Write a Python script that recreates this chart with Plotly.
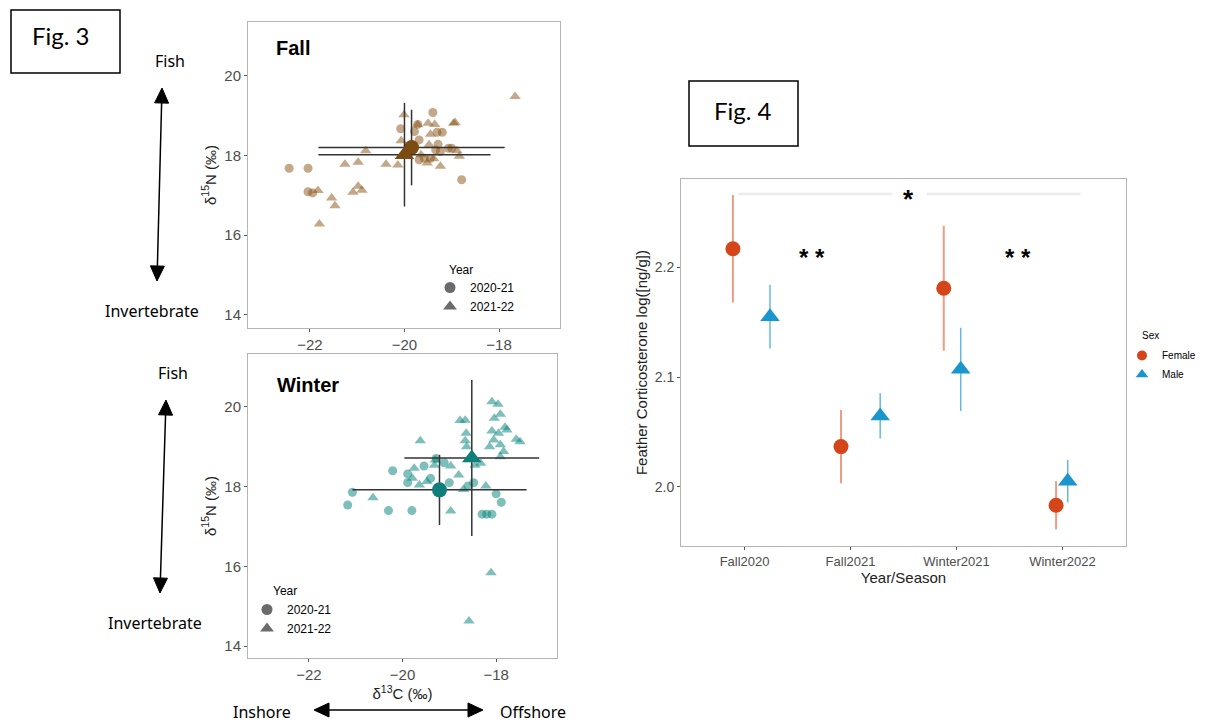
import plotly.graph_objects as go

# ---------------- Fig. 3 data (d13C, d15N) ----------------
fall_2021_x = [-22.44, -22.04, -22.04, -21.94, -20.08, -19.40, -19.20, -19.31, -19.79, -19.69, -19.72,
               -19.29, -19.34, -19.07, -19.00, -19.24, -19.69, -19.58, -18.79, -19.45, -19.90]
fall_2021_y = [17.68, 17.68, 17.09, 17.06, 18.67, 19.08, 18.58, 18.58, 18.60, 18.39, 18.78,
               18.28, 18.14, 18.18, 18.18, 18.10, 17.89, 17.93, 17.39, 17.93, 18.14]
fall_2122_x = [-21.83, -21.80, -21.54, -21.47, -21.26, -20.98, -21.09, -20.98, -20.90, -20.82, -20.39,
               -20.14, -20.01, -20.07, -19.72, -19.50, -19.36, -19.45, -19.48, -19.52, -19.38, -19.24,
               -18.96, -18.93, -18.89, -18.84, -17.66, -19.65]
fall_2122_y = [17.12, 16.28, 16.93, 16.74, 17.78, 17.83, 17.08, 17.23, 17.13, 18.12, 17.78,
               17.76, 19.02, 18.37, 18.77, 18.81, 18.78, 18.53, 18.27, 17.81, 17.92, 17.73,
               18.81, 18.83, 18.12, 17.98, 19.48, 18.02]
fall_mean_x = [-19.85, -20.00]   # 2020-21, 2021-22
fall_mean_y = [18.20, 18.02]
fall_sd_x = [1.97, 1.82]
fall_sd_y = [0.95, 1.30]

winter_2021_x = [-21.17, -21.07, -20.30, -20.21, -19.80, -19.89, -19.89, -19.54, -19.40, -19.28,
                 -19.11, -19.00, -18.60, -18.48, -18.30, -18.20, -18.09, -18.00, -17.89]
winter_2021_y = [17.54, 17.86, 17.40, 18.40, 17.40, 18.32, 18.10, 18.52, 18.21, 18.71,
                 18.60, 18.10, 18.02, 18.10, 17.31, 17.31, 17.31, 17.82, 17.61]
winter_2122_x = [-20.63, -19.79, -19.62, -19.75, -19.64, -19.48, -19.30, -19.32, -18.97, -18.97,
                 -18.80, -18.77, -18.66, -18.64, -18.66, -18.63, -18.70, -18.45, -18.33, -18.22,
                 -18.09, -17.96, -17.91, -18.04, -18.09, -18.05, -18.14, -17.95, -17.91, -17.81,
                 -17.77, -17.84, -17.91, -17.57, -17.49, -18.11, -18.58]
winter_2122_y = [17.72, 18.21, 19.15, 18.46, 18.04, 18.13, 18.67, 18.54, 18.52, 17.39,
                 18.29, 19.66, 19.67, 19.34, 19.15, 19.00, 17.93, 18.54, 18.59, 18.02,
                 20.13, 20.07, 19.82, 19.72, 19.40, 19.17, 19.00, 19.34, 19.05, 19.49,
                 19.42, 18.88, 18.75, 19.19, 19.13, 15.84, 14.63]
winter_mean_x = [-19.21, -18.52]
winter_mean_y = [17.92, 18.72]
winter_sd_x = [1.86, 1.44]
winter_sd_y = [0.88, 1.96]

year_labels = ["2020-21", "2021-22"]
c13_ticks = [-22, -20, -18]
n15_ticks = [14, 16, 18, 20]

# ---------------- Fig. 4 data ----------------
seasons = ["Fall2020", "Fall2021", "Winter2021", "Winter2022"]
sex_labels = ["Female", "Male"]
female_mean = [2.217, 2.0365, 2.181, 1.983]
female_err = [0.049, 0.0335, 0.057, 0.022]
male_mean = [2.155, 2.0645, 2.107, 2.005]
male_err = [0.029, 0.0207, 0.038, 0.0194]
female_dodge = [-0.11, -0.09, -0.12, -0.06]
male_dodge = [0.24, 0.28, 0.04, 0.05]
cort_ticks = [2.0, 2.1, 2.2]
sig_bracket_x = [0.94, 2.39, None, 2.72, 4.17]
sig_bracket_y = [2.267, 2.267, None, 2.267, 2.267]
sig_labels = ["*", "* *", "* *"]
sig_x = [2.549, 1.636, 3.58]
sig_y = [2.268, 2.2146, 2.2146]

W, H = 1209, 724
FONT = "Liberation Sans"
FALL_PT = "rgba(135,82,20,0.5)"
FALL_MEAN = "#7B4B12"
WIN_PT = "rgba(0,128,120,0.5)"
WIN_MEAN = "#0E7F7A"
FEM = "#D5451A"
FEM_ERR = "#EE9C84"
MAL = "#1A96CE"
MAL_ERR = "#64B8E0"

def px(x):
    return x / W

def py(y):
    return 1 - y / H

fig = go.Figure()

def add_panel(xs1, ys1, xs2, ys2, mx, my, sx, sy, pt_col, mean_col, xa, ya, leg):
    fig.add_trace(go.Scatter(x=xs1, y=ys1, mode="markers", xaxis=xa, yaxis=ya, showlegend=False,
                             marker=dict(symbol="circle", size=9, color=pt_col)))
    fig.add_trace(go.Scatter(x=xs2, y=ys2, mode="markers", xaxis=xa, yaxis=ya, showlegend=False,
                             marker=dict(symbol="triangle-up", size=10, color=pt_col)))
    for i, sym, sz in [(0, "circle", 15), (1, "triangle-up", 17)]:
        fig.add_trace(go.Scatter(
            x=[mx[i]], y=[my[i]], mode="markers", xaxis=xa, yaxis=ya, showlegend=False,
            marker=dict(symbol=sym, size=sz, color=mean_col),
            error_x=dict(type="data", array=[sx[i]], color="#333333", thickness=1.5, width=0),
            error_y=dict(type="data", array=[sy[i]], color="#333333", thickness=1.5, width=0)))
    for lab, sym, sz in zip(year_labels, ["circle", "triangle-up"], [11, 12]):
        fig.add_trace(go.Scatter(x=[None], y=[None], mode="markers", xaxis=xa, yaxis=ya,
                                 name=lab, legend=leg, showlegend=True,
                                 marker=dict(symbol=sym, size=sz, color="#6B6B6B")))

add_panel(fall_2021_x, fall_2021_y, fall_2122_x, fall_2122_y, fall_mean_x, fall_mean_y,
          fall_sd_x, fall_sd_y, FALL_PT, FALL_MEAN, "x", "y", "legend")
add_panel(winter_2021_x, winter_2021_y, winter_2122_x, winter_2122_y, winter_mean_x, winter_mean_y,
          winter_sd_x, winter_sd_y, WIN_PT, WIN_MEAN, "x2", "y2", "legend2")

# Fig. 4
fig.add_trace(go.Scatter(x=sig_bracket_x, y=sig_bracket_y, mode="lines", xaxis="x3", yaxis="y3",
                         showlegend=False, line=dict(color="#EBEBEB", width=2.5)))
fig.add_trace(go.Scatter(
    x=[i + 1 + d for i, d in enumerate(female_dodge)], y=female_mean, mode="markers",
    xaxis="x3", yaxis="y3", name=sex_labels[0], showlegend=False,
    marker=dict(symbol="circle", size=15, color=FEM),
    error_y=dict(type="data", array=female_err, color=FEM_ERR, thickness=2, width=0)))
fig.add_trace(go.Scatter(
    x=[i + 1 + d for i, d in enumerate(male_dodge)], y=male_mean, mode="markers",
    xaxis="x3", yaxis="y3", name=sex_labels[1], showlegend=False,
    marker=dict(symbol="triangle-up", size=17, color=MAL),
    error_y=dict(type="data", array=male_err, color=MAL_ERR, thickness=1.5, width=0)))
for lab, sym, sz, col in zip(sex_labels, ["circle", "triangle-up"], [10, 11], [FEM, MAL]):
    fig.add_trace(go.Scatter(x=[None], y=[None], mode="markers", xaxis="x3", yaxis="y3",
                             name=lab, legend="legend3", showlegend=True,
                             marker=dict(symbol=sym, size=sz, color=col)))

axis_common = dict(showline=True, mirror=True, linecolor="#B5B5B5", linewidth=1, showgrid=False,
                   zeroline=False, ticks="outside", ticklen=3, tickcolor="#555555",
                   tickfont=dict(family=FONT, size=15, color="#4D4D4D"))

n15_title = dict(text="δ<sup>15</sup>N (‰)", font=dict(family=FONT, size=15, color="#222222"), standoff=4)

fig.update_layout(
    width=W, height=H, margin=dict(l=0, r=0, t=0, b=0),
    paper_bgcolor="white", plot_bgcolor="white",
    font=dict(family=FONT, color="black"),
    xaxis=dict(axis_common, domain=[px(248), px(560)], range=[-23.31, -16.71], tickvals=c13_ticks,
               anchor="y"),
    yaxis=dict(axis_common, domain=[py(328), py(22)], range=[13.67, 21.35], tickvals=n15_ticks,
               anchor="x", title=n15_title),
    xaxis2=dict(axis_common, domain=[px(248), px(557)], range=[-23.3, -16.7], tickvals=c13_ticks,
                anchor="y2",
                title=dict(text="δ<sup>13</sup>C (‰)", font=dict(family=FONT, size=15, color="#222222"),
                           standoff=4)),
    yaxis2=dict(axis_common, domain=[py(658), py(354)], range=[13.7, 21.33], tickvals=n15_ticks,
                anchor="x2", title=n15_title),
    xaxis3=dict(axis_common, domain=[px(681), px(1126)], range=[0.4, 4.6], tickvals=[1, 2, 3, 4],
                ticktext=seasons, anchor="y3", tickfont=dict(family=FONT, size=13, color="#4D4D4D"),
                title=dict(text="Year/Season", font=dict(family=FONT, size=15, color="#222222"),
                           standoff=3)),
    yaxis3=dict(axis_common, domain=[py(546), py(179)], range=[1.9458, 2.2807], tickvals=cort_ticks,
                tickformat=".1f", anchor="x3", tickfont=dict(family=FONT, size=14, color="#4D4D4D"),
                title=dict(text="Feather Corticosterone log([ng/g])",
                           font=dict(family=FONT, size=15, color="#222222"), standoff=3)),
    legend=dict(x=px(430), y=py(273), xanchor="left", yanchor="top", bgcolor="rgba(0,0,0,0)",
                font=dict(family=FONT, size=12, color="black"), tracegroupgap=0),
    legend2=dict(x=px(247), y=py(595), xanchor="left", yanchor="top", bgcolor="rgba(0,0,0,0)",
                 font=dict(family=FONT, size=12, color="black"), tracegroupgap=0),
    legend3=dict(x=px(1122), y=py(341), xanchor="left", yanchor="top", bgcolor="rgba(0,0,0,0)",
                 font=dict(family=FONT, size=10, color="black"), tracegroupgap=0),
)

ann = []
# legend titles
ann.append(dict(text="Year", x=px(447), y=py(270), xref="paper", yref="paper", xanchor="left",
                yanchor="middle", showarrow=False, font=dict(family=FONT, size=12, color="black")))
ann.append(dict(text="Year", x=px(271), y=py(591), xref="paper", yref="paper", xanchor="left",
                yanchor="middle", showarrow=False, font=dict(family=FONT, size=12, color="black")))
ann.append(dict(text="Sex", x=px(1140), y=py(336), xref="paper", yref="paper", xanchor="left",
                yanchor="middle", showarrow=False, font=dict(family=FONT, size=10, color="black")))
# panel titles
ann.append(dict(text="<b>Fall</b>", x=px(274), y=py(48), xref="paper", yref="paper", xanchor="left",
                yanchor="middle", showarrow=False, font=dict(family=FONT, size=20, color="black")))
ann.append(dict(text="<b>Winter</b>", x=px(275), y=py(385), xref="paper", yref="paper",
                xanchor="left", yanchor="middle", showarrow=False,
                font=dict(family=FONT, size=20, color="black")))
# figure labels
for txt, cx, cy in [("Fig. 3", 61, 36), ("Fig. 4", 743, 110)]:
    ann.append(dict(text=txt, x=px(cx), y=py(cy), xref="paper", yref="paper", showarrow=False,
                    xanchor="center", yanchor="middle", font=dict(family="Lato", size=24, color="black")))
# side labels
for txt, cx, cy in [("Fish", 170, 61), ("Invertebrate", 152, 311), ("Fish", 173, 373),
                    ("Invertebrate", 155, 623), ("Inshore", 262, 712), ("Offshore", 533, 712)]:
    ann.append(dict(text=txt, x=px(cx), y=py(cy), xref="paper", yref="paper", showarrow=False,
                    xanchor="center", yanchor="middle",
                    font=dict(family="Noto Sans", size=16, color="black")))
# significance stars
for lab, sx_, sy_, fs in zip(sig_labels, sig_x, sig_y, [26, 24, 24]):
    ann.append(dict(text=f"<b>{lab}</b>", x=sx_, y=sy_, xref="x3", yref="y3", showarrow=False,
                    xanchor="center", yanchor="middle", yshift=-6,
                    font=dict(family=FONT, size=fs, color="black")))
fig.update_layout(annotations=ann)

shapes = []
for x0, y0, x1, y1 in [(11, 10, 120, 73), (689, 81, 798, 146)]:
    shapes.append(dict(type="rect", xref="paper", yref="paper", x0=px(x0), x1=px(x1), y0=py(y1),
                       y1=py(y0), line=dict(color="black", width=1.5)))

# double-headed arrows (lines with filled triangular heads)
def arrow(x0, y0, x1, y1, head=15, half=7):
    import math
    dx, dy = x1 - x0, y1 - y0
    L = math.hypot(dx, dy)
    ux, uy = dx / L, dy / L
    nx, ny = -uy, ux
    out = [dict(type="line", xref="paper", yref="paper",
                x0=px(x0 + ux * head * 0.8), y0=py(y0 + uy * head * 0.8),
                x1=px(x1 - ux * head * 0.8), y1=py(y1 - uy * head * 0.8),
                line=dict(color="black", width=1.5))]
    for (tx, ty, sgn) in [(x0, y0, 1), (x1, y1, -1)]:
        bx, by = tx + sgn * ux * head, ty + sgn * uy * head
        pts = [(tx, ty), (bx + nx * half, by + ny * half), (bx - nx * half, by - ny * half)]
        path = "M " + " L ".join(f"{px(a):.5f},{py(b):.5f}" for a, b in pts) + " Z"
        out.append(dict(type="path", xref="paper", yref="paper", path=path,
                        fillcolor="black", line=dict(color="black", width=1)))
    return out

for a in [(162, 88, 157, 281), (166, 400, 160, 593), (314, 710, 483, 710)]:
    shapes += arrow(*a)
fig.update_layout(shapes=shapes)

fig.write_html("out.html", config={"displayModeBar": False},
               post_script="document.body.style.margin='0';")
